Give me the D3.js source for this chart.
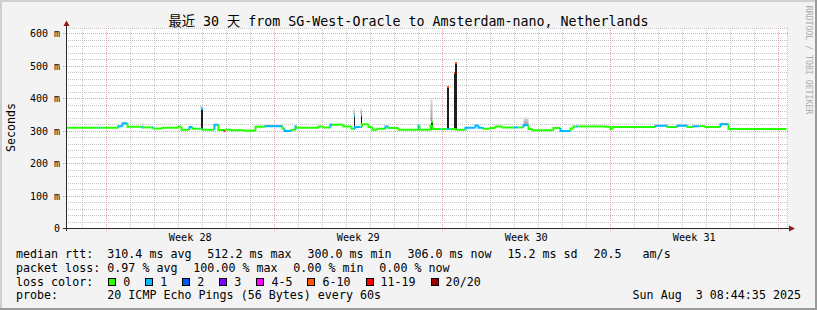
<!DOCTYPE html>
<html>
<head>
<meta charset="utf-8">
<script src="https://cdn.jsdelivr.net/npm/d3@7"></script>
<style>
  html, body { margin: 0; padding: 0; background: #f3f3f3; }
  svg text { font-family: "DejaVu Sans Mono", "Noto Sans CJK SC", monospace; white-space: pre; }
</style>
</head>
<body>
<div id="chart"></div>
<script>
// time window: last 30 days ending at the probe timestamp
const endTime = new Date(Date.UTC(2025, 7, 3, 8, 44, 35));
const spanDays = 30;

// y ticks (seconds, shown in milli)
const yTicks = [0, 100, 200, 300, 400, 500, 600];

// median rtt as steps: [hour from start, ms, loss bucket]
const medianSteps = [
  [0, 310, 0], [32, 310, 1], [34, 310, 0], [52, 315, 1], [56, 323, 1], [61, 313, 0],
  [76, 311, 1], [77, 311, 0], [85, 311, 1], [87, 308, 0], [96, 310, 0], [112, 314, 0],
  [115, 304, 0], [123, 312, 1], [126, 307, 0], [134, 307, 1], [136, 304, 0], [148, 319, 1],
  [152, 303, 0], [158, 301, 6], [159, 304, 0], [165, 302, 0], [179, 301, 0], [189, 313, 0],
  [199, 315, 1], [216, 308, 0], [218, 300, 1], [225, 304, 0], [229, 315, 1], [230, 310, 0],
  [252, 314, 0], [257, 311, 0], [264, 320, 1], [266, 319, 0], [277, 314, 0], [285, 307, 0],
  [287, 307, 1], [288.5, 312, 1], [294, 312, 1], [295.5, 321, 0], [302, 312, 0], [306, 304, 0],
  [311, 307, 0], [319, 314, 1], [322, 309, 0], [332, 304, 0], [352, 317, 1], [353, 304, 0],
  [364, 317, 0], [366, 306, 0], [374, 306, 1], [375, 306, 0], [380, 306, 1], [382.5, 306, 0],
  [390, 304, 0], [399, 310, 1], [409, 317, 1], [412, 310, 1], [417, 307, 0], [424, 309, 0],
  [429, 314, 0], [436, 311, 0], [447, 311, 1], [452, 311, 0], [457, 318, 1], [462, 306, 0],
  [466, 302, 0], [487, 309, 0], [494, 300, 1], [504, 308, 0], [507, 314, 0], [509, 314, 1],
  [512, 314, 0], [539, 313, 0], [544, 306, 0], [546, 312, 0], [589, 316, 1], [601, 312, 0],
  [611, 316, 1], [621, 312, 0], [627, 315, 1], [633, 315, 0], [639, 312, 0], [654, 321, 1],
  [662, 306, 0], [720, 306, 0]
];

// dense smoke columns: [hour from, hour to, low ms, high ms, loss bucket of top]
const spikes = [
  [134, 136, 307, 370, 1],
  [287, 288.5, 307, 350, 1],
  [294, 295.5, 312, 353, 1],
  [364, 366, 304, 330, 0],
  [380, 382.5, 306, 440, 5],
  [387.3, 388.8, 306, 481, 5],
  [388.8, 390.3, 306, 512, 5]
];

// light smoke: [hour from, hour to, low ms, high ms]
const smoke = [
  [56, 61, 323, 329], [76, 77, 311, 327], [199, 216, 315, 320], [266, 277, 319, 323],
  [134, 136, 370, 378], [287, 288.5, 350, 369], [294, 295.5, 353, 369], [364, 366, 330, 401],
  [457, 462, 318, 342], [589, 601, 316, 320], [611, 621, 316, 322], [654, 662, 321, 326]
];

// legend
const lossLabels = ["0", "1", "2", "3", "4-5", "6-10", "11-19", "20/20"];
const lossColors = ["#26ff00", "#00b8ff", "#0059ff", "#7e00ff", "#ff00ff", "#ff5500", "#ff0000", "#a10000"];
const rttStats = ["310.4 ms avg", "512.2 ms max", "300.0 ms min", "306.0 ms now", "15.2 ms sd", "20.5   am/s"];
const lossStats = ["0.97 % avg", "100.00 % max", "0.00 % min", "0.00 % now"];
const probeText = "20 ICMP Echo Pings (56 Bytes) every 60s";
const titleText = "最近 30 天 from SG-West-Oracle to Amsterdam-nano, Netherlands";

const W = 817, H = 310;
const charW = 7.02;
const startTime = new Date(+endTime - spanDays * 864e5);
const t = (h) => new Date(+startTime + h * 36e5);

const xScale = d3.scaleUtc().domain([startTime, endTime]).range([66.5, 786.5]);
const yScale = d3.scaleLinear().domain([0, 600]).range([228.5, 33.5]);
const plotTop = 28, plotBottom = 228, plotLeft = 66, plotRight = 788;

const svg = d3.select("#chart").append("svg")
  .attr("width", W)
  .attr("height", H);

// background + 3d frame
svg.append("rect").attr("width", W).attr("height", H).attr("fill", "#f3f3f3");
svg.append("rect").attr("x", 0).attr("y", 0).attr("width", W).attr("height", 2).attr("fill", "#cfcfcf");
svg.append("rect").attr("x", 0).attr("y", 0).attr("width", 2).attr("height", H).attr("fill", "#cfcfcf");
svg.append("rect").attr("x", 0).attr("y", H - 2).attr("width", W).attr("height", 2).attr("fill", "#9a9a9a");
svg.append("rect").attr("x", W - 2).attr("y", 0).attr("width", 2).attr("height", H).attr("fill", "#9a9a9a");

// canvas
svg.append("rect")
  .attr("x", plotLeft).attr("y", plotTop)
  .attr("width", plotRight - plotLeft).attr("height", plotBottom - plotTop)
  .attr("fill", "#ffffff");

const grid = svg.append("g").attr("shape-rendering", "crispEdges").attr("stroke-dasharray", "1,1");

// minor grid: every 20 ms, every day
const minorY = d3.range(20, 620, 20).filter((v) => v % 100 !== 0 && yScale(v) > plotTop);
grid.selectAll(".gy").data(minorY).enter().append("line")
  .attr("x1", plotLeft).attr("x2", plotRight)
  .attr("y1", (d) => yScale(d)).attr("y2", (d) => yScale(d))
  .attr("stroke", "#c4c4c4");

const days = d3.utcDay.range(startTime, endTime).filter((d) => d.getUTCDay() !== 0);
grid.selectAll(".gx").data(days).enter().append("line")
  .attr("x1", (d) => Math.round(xScale(d)) + 0.5).attr("x2", (d) => Math.round(xScale(d)) + 0.5)
  .attr("y1", plotTop).attr("y2", plotBottom)
  .attr("stroke", "#c4c4c4");

// canvas top and right edge
grid.append("line").attr("x1", plotLeft).attr("x2", plotRight).attr("y1", plotTop + 0.5).attr("y2", plotTop + 0.5).attr("stroke", "#c4c4c4");
grid.append("line").attr("x1", plotRight - 0.5).attr("x2", plotRight - 0.5).attr("y1", plotTop).attr("y2", plotBottom).attr("stroke", "#c4c4c4");

// major grid: every 100 ms, every week (sunday)
grid.selectAll(".my").data(yTicks.filter((v) => v > 0)).enter().append("line")
  .attr("x1", plotLeft - 3).attr("x2", plotRight)
  .attr("y1", (d) => yScale(d)).attr("y2", (d) => yScale(d))
  .attr("stroke", "#e8a4a4");

const weeks = d3.utcSunday.range(startTime, endTime);
grid.selectAll(".mx").data(weeks).enter().append("line")
  .attr("x1", (d) => Math.round(xScale(d)) + 0.5).attr("x2", (d) => Math.round(xScale(d)) + 0.5)
  .attr("y1", plotTop).attr("y2", plotBottom + 3)
  .attr("stroke", "#e8a4a4");

// smoke gradient
const defs = svg.append("defs");
const grad = defs.append("linearGradient").attr("id", "smoke").attr("x1", 0).attr("y1", 0).attr("x2", 0).attr("y2", 1);
grad.append("stop").attr("offset", "0%").attr("stop-color", "#e4e4e4");
grad.append("stop").attr("offset", "100%").attr("stop-color", "#9a9a9a");

svg.append("g").selectAll("rect").data(smoke).enter().append("rect")
  .attr("x", (d) => xScale(t(d[0])))
  .attr("width", (d) => Math.max(1, xScale(t(d[1])) - xScale(t(d[0]))))
  .attr("y", (d) => yScale(d[3]))
  .attr("height", (d) => yScale(d[2]) - yScale(d[3]))
  .attr("fill", "url(#smoke)");

// dense smoke columns
const spk = svg.append("g").attr("shape-rendering", "crispEdges");
spk.selectAll(".bar").data(spikes).enter().append("rect")
  .attr("x", (d) => xScale(t(d[0])))
  .attr("width", (d) => xScale(t(d[1])) - xScale(t(d[0])))
  .attr("y", (d) => yScale(d[3]))
  .attr("height", (d) => yScale(d[2]) - yScale(d[3]))
  .attr("fill", "#1e1e1e");
spk.selectAll(".cap").data(spikes).enter().append("rect")
  .attr("x", (d) => xScale(t(d[0])))
  .attr("width", (d) => xScale(t(d[1])) - xScale(t(d[0])))
  .attr("y", (d) => yScale(d[3]))
  .attr("height", 2)
  .attr("fill", (d) => lossColors[d[4]]);

// median line, one coloured piece per step
const line = d3.line().x((d) => xScale(t(d[0]))).y((d) => yScale(d[1]));
const pieces = medianSteps.slice(0, -1).map((s, i) => {
  const prev = i > 0 ? medianSteps[i - 1][1] : s[1];
  const next = medianSteps[i + 1][0];
  return { loss: s[2], pts: [[s[0], prev], [s[0], s[1]], [next, s[1]]] };
});
svg.append("g").selectAll("path").data(pieces).enter().append("path")
  .attr("d", (d) => line(d.pts))
  .attr("fill", "none")
  .attr("stroke", (d) => lossColors[d.loss])
  .attr("stroke-width", 2);

// axes lines with arrows
const axisCol = "#2a2a2a";
svg.append("line").attr("x1", 63).attr("x2", 789).attr("y1", 228.5).attr("y2", 228.5)
  .attr("stroke", axisCol).attr("shape-rendering", "crispEdges");
svg.append("line").attr("x1", 66.5).attr("x2", 66.5).attr("y1", 231).attr("y2", 25)
  .attr("stroke", axisCol).attr("shape-rendering", "crispEdges");
svg.append("path").attr("d", "M789,225.5L795,228.5L789,231.5Z").attr("fill", "#8e1b1b");
svg.append("path").attr("d", "M63.5,26L69.5,26L66.5,20.5Z").attr("fill", "#8e1b1b");

// y axis labels
const yAxis = d3.axisLeft(yScale).tickValues(yTicks).tickSize(0).tickPadding(0)
  .tickFormat((v) => (v === 0 ? "0" : v + " m"));
const gy = svg.append("g").attr("transform", "translate(60,0)").call(yAxis);
gy.select(".domain").remove();
gy.selectAll("text").attr("font-family", "DejaVu Sans Mono").attr("font-size", 10).attr("fill", "#000");

// x axis week labels, centred in each week
const weekMids = d3.utcSunday.range(d3.utcDay.offset(startTime, -7), endTime)
  .map((d) => d3.utcHour.offset(d, 84))
  .filter((d) => d > startTime && d < endTime);
const xAxis = d3.axisBottom(xScale).tickValues(weekMids).tickSize(0).tickPadding(4.8)
  .tickFormat((d) => "Week " + d3.utcFormat("%V")(d));
const gx = svg.append("g").attr("transform", "translate(0,229)").call(xAxis);
gx.select(".domain").remove();
gx.selectAll("text").attr("font-family", "DejaVu Sans Mono").attr("font-size", 10.2).attr("fill", "#000");

// title
svg.append("text").attr("x", 408.5).attr("y", 26).attr("text-anchor", "middle")
  .attr("font-size", 13.3).attr("fill", "#000").text(titleText);

// y label
svg.append("text").attr("transform", "translate(15,127.5) rotate(-90)")
  .attr("text-anchor", "middle").attr("font-size", 11.6).attr("fill", "#000").text("Seconds");

// watermark
svg.append("text").attr("transform", "translate(806,60) rotate(90)")
  .attr("text-anchor", "middle").attr("font-size", 8.2).attr("fill", "#ababab")
  .text("RRDTOOL / TOBI OETIKER");

// legend
const legend = svg.append("g").attr("font-size", 11.66).attr("fill", "#000");
const lineY = [257.7, 271.6, 285.5, 299.4];
const col0 = 16, col1 = 107.3;

function statRow(items, yPos) {
  let xPos = col1;
  items.forEach((s) => {
    legend.append("text").attr("x", xPos).attr("y", yPos).text(s);
    xPos += s.length * charW + 15.8;
  });
}
legend.append("text").attr("x", col0).attr("y", lineY[0]).text("median rtt:");
statRow(rttStats, lineY[0]);
legend.append("text").attr("x", col0).attr("y", lineY[1]).text("packet loss:");
statRow(lossStats, lineY[1]);

legend.append("text").attr("x", col0).attr("y", lineY[2]).text("loss color:");
let bx = 108.3;
lossLabels.forEach((lab, i) => {
  legend.append("rect").attr("x", bx + 0.5).attr("y", 278.5).attr("width", 7).attr("height", 7)
    .attr("fill", lossColors[i]).attr("stroke", "#000").attr("shape-rendering", "crispEdges");
  legend.append("text").attr("x", bx + 15).attr("y", lineY[2]).text(lab);
  bx += 15 + lab.length * charW + 15;
});

legend.append("text").attr("x", col0).attr("y", lineY[3]).text("probe:");
legend.append("text").attr("x", col1).attr("y", lineY[3]).text(probeText);
legend.append("text").attr("x", 801).attr("y", lineY[3]).attr("text-anchor", "end")
  .text(d3.utcFormat("%a %b %e %H:%M:%S %Y")(endTime));
</script>
</body>
</html>
